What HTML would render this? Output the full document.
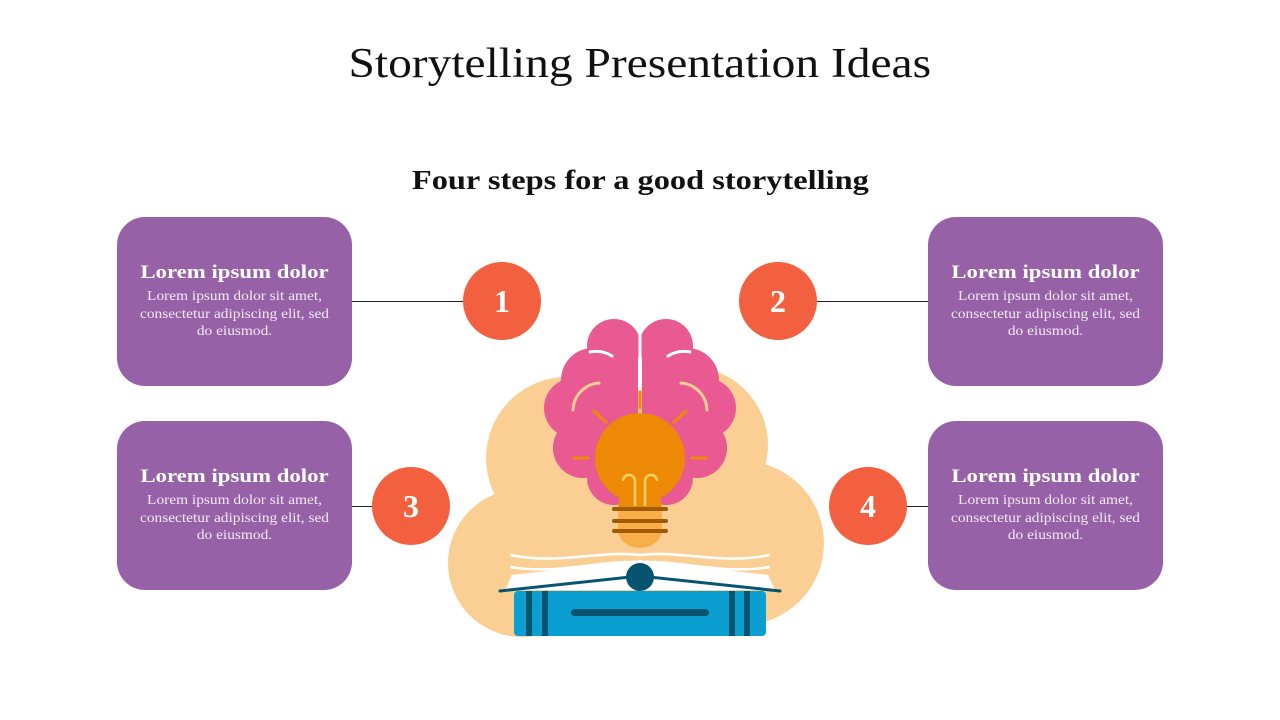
<!DOCTYPE html>
<html><head><meta charset="utf-8"><style>
body{margin:0;width:1280px;height:720px;background:#fff;position:relative;overflow:hidden;font-family:"Liberation Serif",serif}
.t{position:absolute;left:0;width:1280px;text-align:center}
.t span{display:inline-block}
.box{position:absolute;width:235px;height:169px;background:#9761A8;border-radius:28px;color:#fff;text-align:center;box-sizing:border-box;padding-top:44px}
.box h3{margin:0;font-size:19px;font-weight:bold;line-height:24px;transform:scaleX(1.2)}
.box p{margin:3px auto 0;font-size:14px;line-height:17.5px;width:235px;color:#f3eaf6;transform:scaleX(1.1)}
.c{position:absolute;width:78px;height:78px;border-radius:50%;background:#F2603F;color:#fff;font-weight:bold;font-size:32px;line-height:78px;text-align:center}
.l{position:absolute;height:1px;background:#222}
</style></head><body>
<div class="t" style="top:40px;font-size:42px;color:#111"><span style="transform:scaleX(1.13)">Storytelling Presentation Ideas</span></div>
<div class="t" style="top:165px;font-size:27px;font-weight:bold;color:#111"><span style="transform:scaleX(1.2)">Four steps for a good storytelling</span></div>

<div class="l" style="left:352px;top:301px;width:112px"></div>
<div class="l" style="left:816px;top:301px;width:112px"></div>
<div class="l" style="left:352px;top:506px;width:22px"></div>
<div class="l" style="left:906px;top:506px;width:22px"></div>

<div class="box" style="left:117px;top:217px"><h3>Lorem ipsum dolor</h3><p>Lorem ipsum dolor sit amet,<br>consectetur adipiscing elit, sed<br>do eiusmod.</p></div>
<div class="box" style="left:928px;top:217px"><h3>Lorem ipsum dolor</h3><p>Lorem ipsum dolor sit amet,<br>consectetur adipiscing elit, sed<br>do eiusmod.</p></div>
<div class="box" style="left:117px;top:421px"><h3>Lorem ipsum dolor</h3><p>Lorem ipsum dolor sit amet,<br>consectetur adipiscing elit, sed<br>do eiusmod.</p></div>
<div class="box" style="left:928px;top:421px"><h3>Lorem ipsum dolor</h3><p>Lorem ipsum dolor sit amet,<br>consectetur adipiscing elit, sed<br>do eiusmod.</p></div>

<div class="c" style="left:463px;top:262px">1</div>
<div class="c" style="left:739px;top:262px">2</div>
<div class="c" style="left:372px;top:467px">3</div>
<div class="c" style="left:829px;top:467px">4</div>

<svg style="position:absolute;left:0;top:0" width="1280" height="720">
<g fill="#FBCF93">
<circle cx="522" cy="563" r="74"/><circle cx="567" cy="458" r="81"/><circle cx="690" cy="445" r="78"/><circle cx="742" cy="543" r="82"/>
<rect x="522" y="450" width="230" height="185"/><rect x="560" y="420" width="140" height="60"/>
</g>
<g fill="#E95A93">
<circle cx="614" cy="346" r="27"/><circle cx="593" cy="380" r="32"/><circle cx="574" cy="408" r="30"/><circle cx="583" cy="448" r="30"/><circle cx="614" cy="478" r="27"/>
<rect x="590" y="350" width="48" height="140"/>
</g>
<g fill="#E95A93" transform="translate(1280,0) scale(-1,1)">
<circle cx="614" cy="346" r="27"/><circle cx="593" cy="380" r="32"/><circle cx="574" cy="408" r="30"/><circle cx="583" cy="448" r="30"/><circle cx="614" cy="478" r="27"/>
<rect x="590" y="350" width="48" height="140"/>
</g>
<line x1="640" y1="330" x2="640" y2="400" stroke="#fff" stroke-width="3"/>
<g fill="none" stroke="#FBCF93" stroke-width="3" stroke-linecap="round">
<path d="M573 410 A28 28 0 0 1 599 383"/><path d="M707 410 A28 28 0 0 0 681 383"/>
</g>
<g fill="none" stroke="#fff" stroke-width="3" stroke-linecap="round">
<path d="M590 352 A30 30 0 0 1 612 356"/><path d="M690 352 A30 30 0 0 0 668 356"/>
</g>
<g stroke="#EE8905" stroke-width="3" stroke-linecap="round">
<line x1="574" y1="458" x2="588" y2="458"/><line x1="692" y1="458" x2="706" y2="458"/>
<line x1="594" y1="411" x2="606" y2="422"/><line x1="686" y1="411" x2="674" y2="422"/>
<line x1="640" y1="392" x2="640" y2="408"/>
</g>
<ellipse cx="640" cy="530" rx="22" ry="18" fill="#F9AE4A"/>
<rect x="618" y="505" width="44" height="25" fill="#F9AE4A"/>
<circle cx="640" cy="458" r="45" fill="#EE8905"/>
<rect x="619" y="470" width="42" height="38" fill="#EE8905"/>
<g fill="none" stroke="#F7D160" stroke-width="2.5" stroke-linecap="round">
<path d="M635 505 V482 A6 6 0 0 0 623 480"/><path d="M645 505 V482 A6 6 0 0 1 657 480"/>
</g>
<g stroke="#A05A00" stroke-width="4" stroke-linecap="round">
<line x1="614" y1="509" x2="666" y2="509"/><line x1="614" y1="521" x2="666" y2="521"/><line x1="614" y1="531" x2="666" y2="531"/>
</g>
<path d="M512 575 L640 560 L768 575 L775 590 L505 590 Z" fill="#fff"/>
<g fill="none" stroke="#fff" stroke-width="2.5">
<path d="M510 555 C560 565 600 550 640 555 C680 550 720 565 770 555"/>
<path d="M510 567 C560 575 600 560 640 562 C680 560 720 575 770 567"/>
</g>
<circle cx="640" cy="577" r="14" fill="#075470"/>
<path d="M500 591 L640 576 L780 591" fill="none" stroke="#075470" stroke-width="3" stroke-linecap="round"/>
<rect x="514" y="591" width="252" height="45" rx="4" fill="#0B9ED0"/>
<g fill="#075470"><rect x="526" y="591" width="6" height="45"/><rect x="542" y="591" width="6" height="45"/><rect x="729" y="591" width="6" height="45"/><rect x="744" y="591" width="6" height="45"/></g>
<rect x="571" y="609" width="138" height="7" rx="3.5" fill="#075470"/>
</svg>
</body></html>
